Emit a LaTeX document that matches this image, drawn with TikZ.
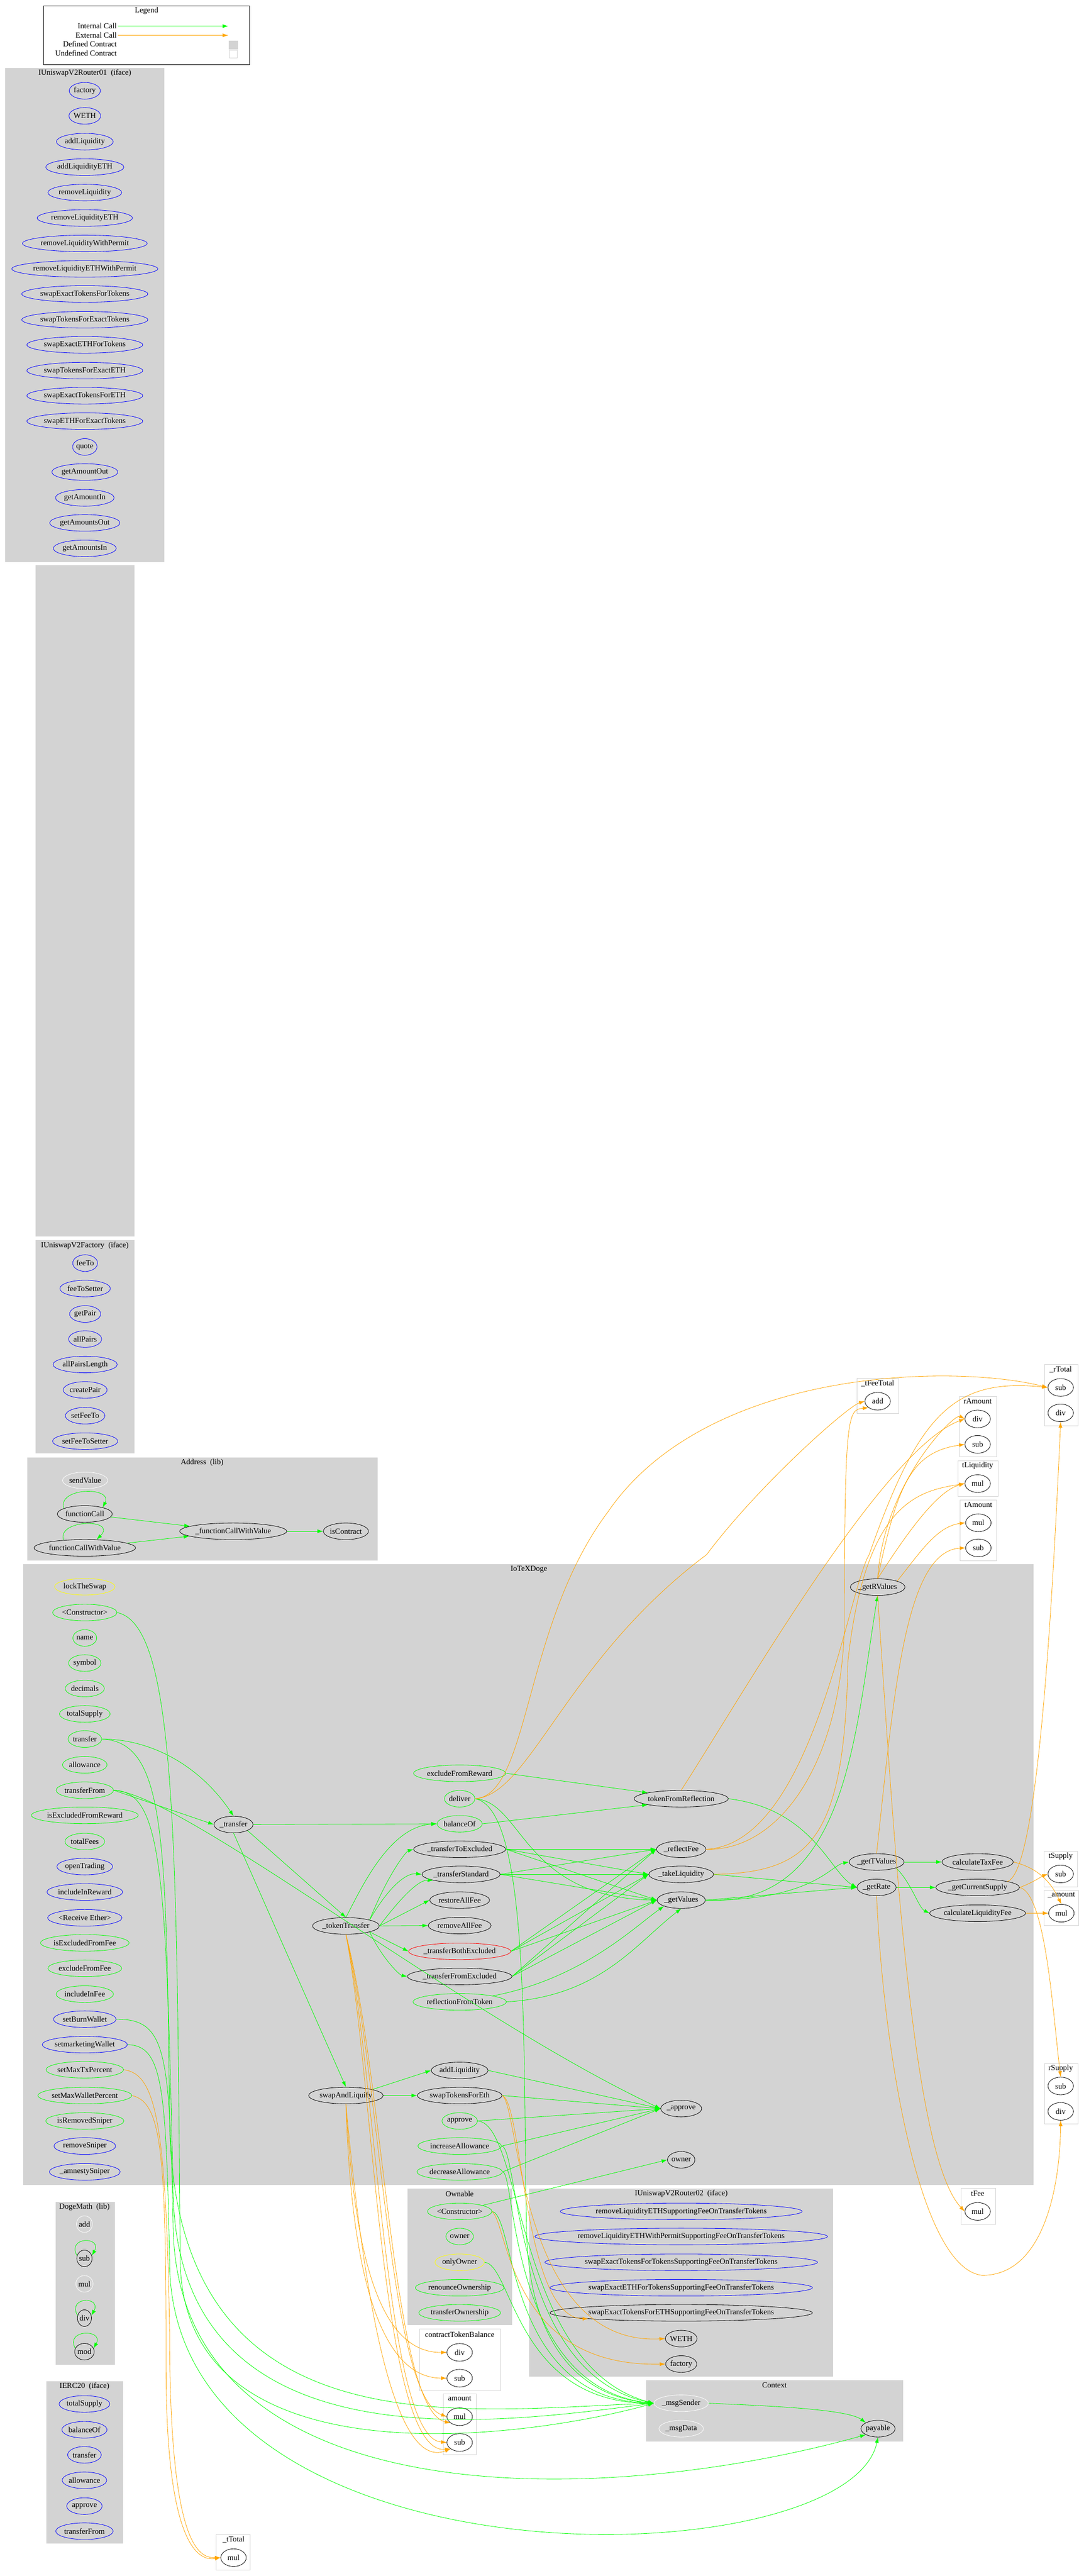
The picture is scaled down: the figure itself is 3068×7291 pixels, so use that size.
\documentclass[tikz,border=0pt]{standalone}
\usepackage{fontspec}
\setmainfont{Liberation Serif}
\usetikzlibrary{shapes.geometric,arrows.meta}
\definecolor{clg}{RGB}{211,211,211}
\definecolor{ig}{RGB}{0,255,0}
\definecolor{eo}{RGB}{255,165,0}
\definecolor{fb}{RGB}{0,0,255}
\definecolor{fy}{RGB}{255,255,0}
\begin{document}
\begin{tikzpicture}[x=1pt,y=-1pt,
 every node/.style={font=\fontsize{22}{24}\selectfont},
 fn/.style={ellipse,draw=#1,line width=1.2pt,inner sep=0pt,minimum height=47pt},
 cn/.style={ellipse,draw=black,line width=1.2pt,inner sep=0pt,minimum width=72pt,minimum height=50pt},
 clu/.style={fill=clg,draw=clg},
 ucl/.style={fill=white,draw=clg,line width=1.2pt},
 ic/.style={draw=ig,line width=1.2pt,-{Latex[length=16pt,width=11pt]}},
 ec/.style={draw=eo,line width=1.2pt,-{Latex[length=16pt,width=11pt]}}]
\useasboundingbox (0,0) rectangle (3068,7291);
\fill[white] (0,0) rectangle (3068,7291);
% clusters
\draw[line width=1.2pt] (123,16) rectangle (707,183);
\fill[clg] (15,192) rectangle (465,1591);
\fill[clg] (101,3510) rectangle (380,4114);
\fill[clg] (77,4125) rectangle (1069,4417);
\fill[clg] (66,4427) rectangle (2925,6184);
\fill[clg] (1153,6194) rectangle (1450,6581);
\fill[clg] (1497,6194) rectangle (2358,6727);
\fill[clg] (157,6232) rectangle (325,6693);
\fill[clg] (131,6740) rectangle (348,7199);
\fill[clg] (1828,6737) rectangle (2556,6910);
\draw[ucl] (1188,6592) rectangle (1417,6766);
\draw[ucl] (1254,6775) rectangle (1348,6948);
\draw[ucl] (612,7174) rectangle (708,7274);
\draw[ucl] (2720,6194) rectangle (2818,6295);
\draw[ucl] (2955,5240) rectangle (3049,5340);
\draw[ucl] (2955,5351) rectangle (3053,5450);
\draw[ucl] (2957,5841) rectangle (3051,6011);
\draw[ucl] (2956,3862) rectangle (3051,4035);
\draw[ucl] (2425,3901) rectangle (2543,4001);
\draw[ucl] (2716,3952) rectangle (2820,4123);
\draw[ucl] (2712,4135) rectangle (2825,4235);
\draw[ucl] (2717,4245) rectangle (2820,4417);
% IUniswapV2Pair placeholder cluster
\fill[clg] (101,1600) rectangle (380,3500);
% legend
\node at (415,31) {Legend};
\node[anchor=east] (lg1) at (334,74) {Internal Call};
\node[anchor=east] (lg2) at (334,100) {External Call};
\node[anchor=east] at (334,125) {Defined Contract};
\node[anchor=east] at (334,151) {Undefined Contract};
\coordinate (lga) at (646,74);
\coordinate (lgb) at (646,100);
\draw[ic] (lg1.east) -- (lga);
\draw[ec] (lg2.east) -- (lgb);
\fill[clg] (647,115) rectangle (673,140);
\draw[clg,line width=1.2pt] (650,142) rectangle (671,164);
% titles
\node at (240,207) {IUniswapV2Router01\ \ (iface)};
\node at (240,3525) {IUniswapV2Factory\ \ (iface)};
\node at (572,4139) {Address\ \ (lib)};
\node at (1497,4442) {IoTeXDoge};
\node at (1301,6209) {Ownable};
\node at (1928,6209) {IUniswapV2Router02\ \ (iface)};
\node at (239,6246) {DogeMath\ \ (lib)};
\node at (239,6754) {IERC20\ \ (iface)};
\node at (1301,6608) {contractTokenBalance};
\node at (1301,6789) {amount};
\node at (2192,6751) {Context};
\node at (661,7188) {\_tTotal};
\node at (2767,6209) {tFee};
\node at (3002,5254) {tSupply};
\node at (3004,5364) {\_amount};
\node at (3002,5855) {rSupply};
\node at (3002,3876) {\_rTotal};
\node at (2484,3915) {\_tFeeTotal};
\node at (2767,3965) {rAmount};
\node at (2767,4149) {tLiquidity};
\node at (2769,4259) {tAmount};
% Router01
\node[fn=fb] (ra1) at (240,257) {factory};
\node[fn=fb] (ra2) at (240,328) {WETH};
\node[fn=fb] (ra3) at (240,401) {addLiquidity};
\node[fn=fb] (ra4) at (240,473) {addLiquidityETH};
\node[fn=fb] (ra5) at (240,545) {removeLiquidity};
\node[fn=fb] (ra6) at (240,617) {removeLiquidityETH};
\node[fn=fb] (ra7) at (240,689) {removeLiquidityWithPermit};
\node[fn=fb] (ra8) at (240,761) {removeLiquidityETHWithPermit};
\node[fn=fb] (ra9) at (240,832) {swapExactTokensForTokens};
\node[fn=fb] (ra10) at (240,905) {swapTokensForExactTokens};
\node[fn=fb] (ra11) at (240,976) {swapExactETHForTokens};
\node[fn=fb] (ra12) at (240,1049) {swapTokensForExactETH};
\node[fn=fb] (ra13) at (240,1120) {swapExactTokensForETH};
\node[fn=fb] (ra14) at (240,1192) {swapETHForExactTokens};
\node[fn=fb] (ra15) at (240,1265) {quote};
\node[fn=fb] (ra16) at (240,1336) {getAmountOut};
\node[fn=fb] (ra17) at (240,1409) {getAmountIn};
\node[fn=fb] (ra18) at (240,1480) {getAmountsOut};
\node[fn=fb] (ra19) at (240,1552) {getAmountsIn};
% Factory
\node[fn=fb] (fa1) at (241,3575) {feeTo};
\node[fn=fb] (fa2) at (241,3647) {feeToSetter};
\node[fn=fb] (fa3) at (241,3719) {getPair};
\node[fn=fb] (fa4) at (241,3790) {allPairs};
\node[fn=fb] (fa5) at (241,3862) {allPairsLength};
\node[fn=fb] (fa6) at (241,3934) {createPair};
\node[fn=fb] (fa7) at (241,4007) {setFeeTo};
\node[fn=fb] (fa8) at (241,4079) {setFeeToSetter};
% Address
\node[fn=white] (sv) at (241,4190) {sendValue};
\node[fn=black] (fc) at (240,4285) {functionCall};
\node[fn=black] (fcv) at (240,4381) {functionCallWithValue};
\node[fn=black] (ifcv) at (660,4334) {\_functionCallWithValue};
\node[fn=black] (isc) at (979,4334) {isContract};
% IoTeXDoge left column
\node[fn=fy] (lts) at (240,4491) {lockTheSwap};
\node[fn=ig] (con) at (240,4564) {<Constructor>};
\node[fn=ig] (nm) at (240,4636) {name};
\node[fn=ig] (sy) at (240,4707) {symbol};
\node[fn=ig] (dc) at (240,4779) {decimals};
\node[fn=ig] (ts) at (240,4851) {totalSupply};
\node[fn=ig] (tr) at (240,4922) {transfer};
\node[fn=ig] (alw) at (240,4995) {allowance};
\node[fn=ig] (trf) at (240,5067) {transferFrom};
\node[fn=ig] (iefr) at (240,5138) {isExcludedFromReward};
\node[fn=ig] (tf) at (240,5212) {totalFees};
\node[fn=fb] (ot) at (240,5283) {openTrading};
\node[fn=fb] (iir) at (240,5355) {includeInReward};
\node[fn=fb] (rce) at (240,5428) {<Receive Ether>};
\node[fn=ig] (ieff) at (240,5499) {isExcludedFromFee};
\node[fn=ig] (eff) at (240,5571) {excludeFromFee};
\node[fn=ig] (iif) at (240,5644) {includeInFee};
\node[fn=fb] (sbw) at (240,5715) {setBurnWallet};
\node[fn=fb] (smw) at (240,5787) {setmarketingWallet};
\node[fn=ig] (smt) at (240,5858) {setMaxTxPercent};
\node[fn=ig] (smp) at (240,5931) {setMaxWalletPercent};
\node[fn=ig] (irs) at (240,6003) {isRemovedSniper};
\node[fn=fb] (rsn) at (240,6074) {removeSniper};
\node[fn=fb] (ams) at (240,6147) {\_amnestySniper};
% IoTeXDoge middle
\node[fn=black] (ttr) at (661,5164) {\_transfer};
\node[fn=ig] (bal) at (1301,5162) {balanceOf};
\node[fn=ig] (efr) at (1301,5019) {excludeFromReward};
\node[fn=ig] (del) at (1301,5091) {deliver};
\node[fn=black] (tfr) at (1928,5091) {tokenFromReflection};
\node[fn=black] (tte) at (1301,5234) {\_transferToExcluded};
\node[fn=black] (tst) at (1305,5305) {\_transferStandard};
\node[fn=black] (raf) at (1301,5378) {restoreAllFee};
\node[fn=black] (rmf) at (1301,5450) {removeAllFee};
\node[fn=red] (tbe) at (1301,5523) {\_transferBothExcluded};
\node[fn=black] (tfe) at (1301,5594) {\_transferFromExcluded};
\node[fn=ig] (rft) at (1301,5666) {reflectionFromToken};
\node[fn=black] (tt) at (979,5451) {\_tokenTransfer};
\node[fn=black] (rf) at (1928,5234) {\_reflectFee};
\node[fn=black] (tl) at (1928,5305) {\_takeLiquidity};
\node[fn=black] (gv) at (1928,5378) {\_getValues};
\node[fn=black] (gtv) at (2481,5270) {\_getTValues};
\node[fn=black] (gr) at (2481,5342) {\_getRate};
\node[fn=black] (grv) at (2484,4492) {\_getRValues};
\node[fn=black] (ctf) at (2767,5270) {calculateTaxFee};
\node[fn=black] (gcs) at (2767,5342) {\_getCurrentSupply};
\node[fn=black] (clf) at (2767,5415) {calculateLiquidityFee};
\node[fn=black] (sal) at (979,5931) {swapAndLiquify};
\node[fn=black] (al) at (1301,5860) {addLiquidity};
\node[fn=black] (ste) at (1301,5931) {swapTokensForEth};
\node[fn=ig] (ap) at (1301,6003) {approve};
\node[fn=ig] (ia) at (1301,6074) {increaseAllowance};
\node[fn=ig] (da) at (1301,6147) {decreaseAllowance};
\node[fn=black] (appr) at (1928,5968) {\_approve};
\node[fn=black] (own) at (1928,6113) {owner};
% Ownable
\node[fn=ig] (oc) at (1301,6259) {<Constructor>};
\node[fn=ig] (oo) at (1301,6330) {owner};
\node[fn=fy] (oly) at (1301,6403) {onlyOwner};
\node[fn=ig] (ro) at (1301,6475) {renounceOwnership};
\node[fn=ig] (to) at (1301,6546) {transferOwnership};
% Router02
\node[fn=fb] (rb1) at (1928,6259) {removeLiquidityETHSupportingFeeOnTransferTokens};
\node[fn=fb] (rb2) at (1928,6330) {removeLiquidityETHWithPermitSupportingFeeOnTransferTokens};
\node[fn=fb] (rb3) at (1928,6403) {swapExactTokensForTokensSupportingFeeOnTransferTokens};
\node[fn=fb] (rb4) at (1928,6475) {swapExactETHForTokensSupportingFeeOnTransferTokens};
\node[fn=black] (rb5) at (1928,6546) {swapExactTokensForETHSupportingFeeOnTransferTokens};
\node[fn=black] (weth) at (1928,6619) {WETH};
\node[fn=black] (fac) at (1928,6691) {factory};
% DogeMath
\node[fn=white] (dadd) at (239,6295) {add};
\node[fn=black] (dsub) at (239,6392) {sub};
\node[fn=white] (dmul) at (239,6464) {mul};
\node[fn=black] (ddiv) at (239,6561) {div};
\node[fn=black] (dmod) at (239,6656) {mod};
% IERC20
\node[fn=fb] (e1) at (239,6804) {totalSupply};
\node[fn=fb] (e2) at (239,6877) {balanceOf};
\node[fn=fb] (e3) at (239,6948) {transfer};
\node[fn=fb] (e4) at (239,7020) {allowance};
\node[fn=fb] (e5) at (239,7093) {approve};
\node[fn=fb] (e6) at (239,7164) {transferFrom};
% Context
\node[fn=white] (ms) at (1928,6802) {\_msgSender};
\node[fn=white] (md) at (1928,6874) {\_msgData};
\node[fn=black] (pay) at (2485,6874) {payable};
% circle nodes
\node[cn] (ctbd) at (1301,6658) {div};
\node[cn] (ctbs) at (1301,6731) {sub};
\node[cn] (amul) at (1301,6840) {mul};
\node[cn] (asub) at (1301,6913) {sub};
\node[cn] (ttm) at (661,7239) {mul};
\node[cn] (tfm) at (2767,6259) {mul};
\node[cn] (tss) at (3002,5304) {sub};
\node[cn] (amm) at (3004,5415) {mul};
\node[cn] (rss) at (3002,5904) {sub};
\node[cn] (rsd) at (3002,5976) {div};
\node[cn] (rts) at (3002,3927) {sub};
\node[cn] (rtd) at (3002,3999) {div};
\node[cn] (tfa) at (2484,3966) {add};
\node[cn] (rad) at (2767,4016) {div};
\node[cn] (ras) at (2767,4088) {sub};
\node[cn] (tlm) at (2767,4199) {mul};
\node[cn] (tam) at (2769,4310) {mul};
\node[cn] (tas) at (2769,4381) {sub};
% Address edges
\draw[ic] (fc) -- (ifcv);
\draw[ic] (fcv) -- (ifcv);
\draw[ic] (ifcv) -- (isc);
\draw[ic] (fc.165) .. controls +(-20,-60) and +(30,-60) .. (fc.20);
\draw[ic] (fcv.160) .. controls +(-20,-60) and +(60,-60) .. (fcv.35);
\draw[ic] (dsub.160) .. controls +(-30,-55) and +(30,-55) .. (dsub.20);
\draw[ic] (ddiv.160) .. controls +(-30,-55) and +(30,-55) .. (ddiv.20);
\draw[ic] (dmod.160) .. controls +(-30,-55) and +(30,-55) .. (dmod.20);
% IoTeXDoge internal edges
\draw[ic] (tr.east) .. controls (420,4922) and (560,4990) .. (ttr.north);
\draw[ic] (trf.east) -- (ttr.west);
\draw[ic] (trf.east) .. controls (520,5080) and (1300,5700) .. (appr.west);
\draw[ic] (tr.east) .. controls (470,4930) and (470,5200) .. (480,6000) .. controls (490,6950) and (1300,6820) .. (ms.west);
\draw[ic] (trf.east) .. controls (460,5070) and (470,5300) .. (490,6200) .. controls (500,6990) and (1400,6860) .. (ms.west);
\draw[ic] (sbw.east) .. controls (470,5715) and (480,5800) .. (490,6300) .. controls (500,7130) and (1700,7100) .. (pay.south west);
\draw[ic] (smw.east) .. controls (460,5790) and (470,5900) .. (480,6400) .. controls (480,7350) and (2400,7300) .. (pay.south);
\draw[ic] (con.east) .. controls (500,4600) and (500,5200) .. (510,6400) .. controls (520,7040) and (1500,6900) .. (ms.west);
\draw[ic] (ttr.east) -- (bal.west);
\draw[ic] (ttr.south east) -- (tt.north);
\draw[ic] (ttr.south) -- (sal.north);
\draw[ic] (efr.east) -- (tfr.north west);
\draw[ic] (bal.east) -- (tfr.south west);
\draw[ic] (del.east) .. controls (1480,5100) and (1480,5370) .. (gv.west);
\draw[ic] (del.east) .. controls (1500,5120) and (1480,5800) .. (1490,6300) .. controls (1495,6700) and (1700,6790) .. (ms.west);
\draw[ic] (tfr.east) .. controls (2300,5120) and (2350,5300) .. (gr.west);
\draw[ic] (tt.north) .. controls (1020,5350) and (1100,5170) .. (bal.west);
\draw[ic] (tt.north east) .. controls (1100,5300) and (1150,5240) .. (tte.west);
\draw[ic] (tt.north east) .. controls (1100,5340) and (1150,5300) .. (tst.west);
\draw[ic] (tt.east) .. controls (1120,5390) and (1180,5320) .. (tst.south west);
\draw[ic] (tt.east) -- (raf.west);
\draw[ic] (tt.east) -- (rmf.west);
\draw[ic] (tt.south east) -- (tbe.west);
\draw[ic] (tt.south east) .. controls (1080,5540) and (1130,5590) .. (tfe.west);
\foreach \s in {tte,tst,tbe,tfe} {
 \draw[ic] (\s.east) -- (rf.west);
 \draw[ic] (\s.east) -- (tl.west);
 \draw[ic] (\s.east) -- (gv.west);
}
\draw[ic] (rft.east) .. controls (1700,5650) and (1800,5500) .. (gv.south);
\draw[ic] (rft.north east) .. controls (1650,5600) and (1800,5450) .. (gv.south west);
\draw[ic] (tl.east) -- (gr.west);
\draw[ic] (gv.east) .. controls (2300,5380) and (2350,5280) .. (gtv.west);
\draw[ic] (gv.east) -- (gr.west);
\draw[ic] (gv.east) .. controls (2400,5400) and (2420,4900) .. (grv.south);
\draw[ic] (gtv.east) -- (ctf.west);
\draw[ic] (gtv.south east) .. controls (2580,5330) and (2600,5400) .. (clf.west);
\draw[ic] (gr.east) -- (gcs.west);
\draw[ic] (sal.north east) -- (al.west);
\draw[ic] (sal.east) -- (ste.west);
\draw[ic] (al.east) -- (appr.west);
\draw[ic] (ste.east) -- (appr.west);
\draw[ic] (ap.east) -- (appr.west);
\draw[ic] (ia.east) -- (appr.west);
\draw[ic] (da.east) -- (appr.west);
\draw[ic] (ap.east) .. controls (1480,6010) and (1460,6700) .. (ms.west);
\draw[ic] (ia.east) .. controls (1470,6080) and (1450,6720) .. (ms.west);
\draw[ic] (da.east) .. controls (1460,6150) and (1440,6760) .. (ms.west);
\draw[ic] (oc.east) .. controls (1460,6270) and (1430,6790) .. (ms.west);
\draw[ic] (oly.east) .. controls (1450,6410) and (1460,6800) .. (ms.west);
\draw[ic] (oc.north east) -- (own.west);
\draw[ic] (ms.east) .. controls (2200,6810) and (2400,6820) .. (pay.north west);
% external edges
\draw[ec] (del.east) .. controls (1500,5080) and (1480,4600) .. (1720,4280) .. controls (2000,3870) and (2700,3860) .. (rts.west);
\draw[ec] (del.east) .. controls (1500,5080) and (1600,4700) .. (2000,4400) .. controls (2150,4200) and (2400,3980) .. (tfa.west);
\draw[ec] (rf.east) .. controls (2200,5240) and (2380,5000) .. (2390,4600) .. controls (2390,4000) and (2400,3990) .. (tfa.south west);
\draw[ec] (rf.east) .. controls (2300,5220) and (2400,4500) .. (2460,4400) .. controls (2600,4000) and (2700,3900) .. (rts.west);
\draw[ec] (tfr.north) .. controls (2100,4800) and (2500,4100) .. (rad.west);
\draw[ec] (tl.east) .. controls (2300,5300) and (2390,5200) .. (2400,4700) .. controls (2450,4250) and (2600,4220) .. (tlm.west);
\draw[ec] (gtv.north) .. controls (2530,4800) and (2560,4390) .. (tas.west);
\draw[ec] (grv.north) .. controls (2540,4200) and (2580,4110) .. (ras.west);
\draw[ec] (grv.north) .. controls (2560,4350) and (2650,4220) .. (tlm.west);
\draw[ec] (grv.north east) .. controls (2600,4400) and (2650,4320) .. (tam.west);
\draw[ec] (grv.north) .. controls (2500,4200) and (2700,4000) .. (rad.west);
\draw[ec] (grv.south) .. controls (2530,5200) and (2580,6100) .. (tfm.west);
\draw[ec] (gr.south) .. controls (2500,5800) and (2600,6420) .. (2780,6440) .. controls (2950,6440) and (3000,6200) .. (rsd.south);
\draw[ec] (gcs.east) .. controls (2920,5330) and (2950,5310) .. (tss.west);
\draw[ec] (gcs.east) .. controls (2960,5360) and (2980,5700) .. (rss.north);
\draw[ec] (gcs.north east) .. controls (2940,5300) and (2980,4500) .. (rtd.south);
\draw[ec] (ctf.east) .. controls (2950,5290) and (2980,5340) .. (amm.north);
\draw[ec] (clf.east) -- (amm.west);
\draw[ec] (tt.south) .. controls (1080,5900) and (1100,6780) .. (amul.west);
\draw[ec] (tt.south) .. controls (1070,5900) and (1090,6900) .. (asub.west);
\draw[ec] (tt.south) .. controls (1060,5900) and (1080,6950) .. (asub.south west);
\draw[ec] (tt.south) .. controls (1090,5900) and (1110,6820) .. (amul.south west);
\draw[ec] (sal.south) .. controls (1000,6300) and (1050,6660) .. (ctbd.west);
\draw[ec] (sal.south) .. controls (990,6300) and (1040,6730) .. (ctbs.west);
\draw[ec] (sal.south) .. controls (1020,6400) and (1100,7000) .. (asub.south west);
\draw[ec] (ste.east) .. controls (1480,5950) and (1480,6560) .. (rb5.south west);
\draw[ec] (ste.east) .. controls (1470,5960) and (1470,6640) .. (weth.west);
\draw[ec] (oc.east) .. controls (1440,6300) and (1440,6700) .. (fac.west);
\draw[ec] (smt.east) .. controls (440,5870) and (470,6000) .. (480,6600) .. controls (480,7200) and (560,7240) .. (ttm.west);
\draw[ec] (smp.east) .. controls (460,5950) and (470,6100) .. (470,6700) .. controls (470,7200) and (560,7250) .. (ttm.west);
\end{tikzpicture}
\end{document}
